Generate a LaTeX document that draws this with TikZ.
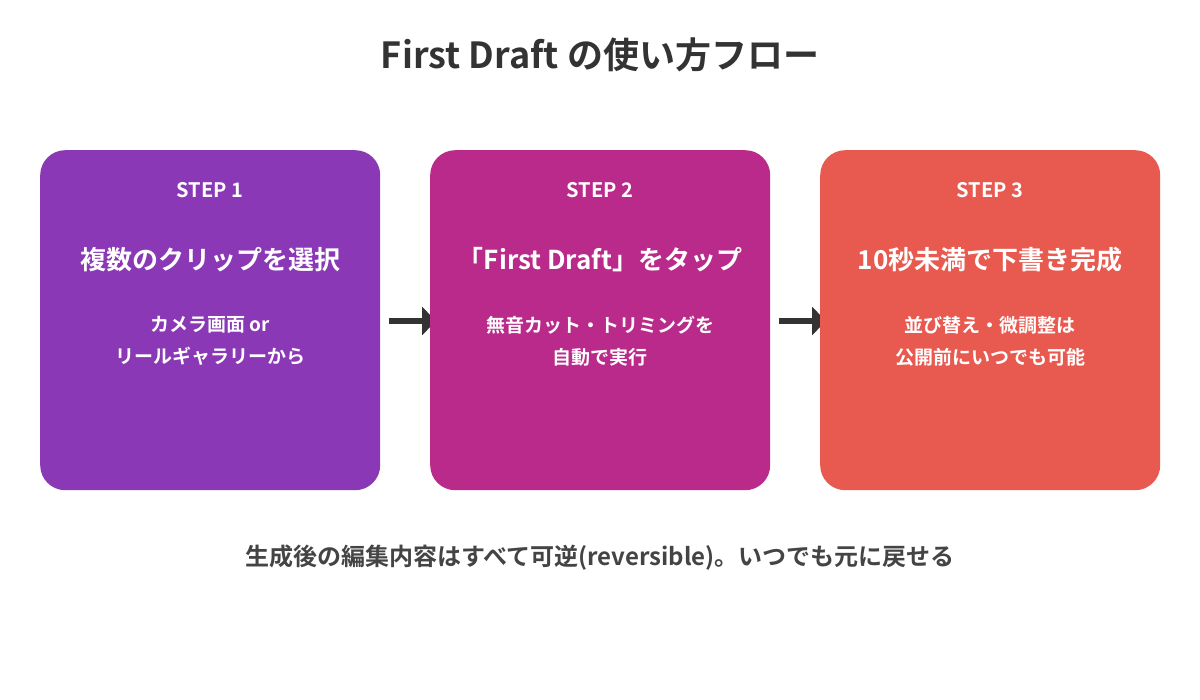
\documentclass[tikz,border=0pt]{standalone}
\usepackage{fontspec}
\setmainfont{Noto Sans CJK JP}[BoldFont={Noto Sans CJK JP Bold}]
\usetikzlibrary{arrows.meta}
\definecolor{cA}{HTML}{8A38B6}
\definecolor{cB}{HTML}{BA2A8A}
\definecolor{cC}{HTML}{E8594F}
\definecolor{dk}{HTML}{333333}
\definecolor{ft}{HTML}{444444}
\begin{document}
\begin{tikzpicture}[x=1pt,y=-1pt,
  box/.style={rounded corners=25pt,minimum width=340pt,minimum height=340pt,inner sep=0pt,anchor=north west},
  lab/.style={text=white,font=\bfseries,align=center},
  arr/.style={draw=dk,line width=6pt,-{Triangle[length=14pt,width=28pt]}}]
\useasboundingbox (0,0) rectangle (1200,700);
\node[font=\bfseries\fontsize{36}{42}\selectfont,text=dk] (title) at (600,55) {First Draft の使い方フロー};
\coordinate (a1s) at (389,321); \coordinate (a1e) at (436,321);
\coordinate (a2s) at (779,321); \coordinate (a2e) at (826,321);
\draw[arr] (a1s) -- (a1e);
\draw[arr] (a2s) -- (a2e);
\node[box,fill=cA] (b1) at (40,150) {};
\node[box,fill=cB] (b2) at (430,150) {};
\node[box,fill=cC] (b3) at (820,150) {};
\foreach \b/\s/\h/\t in {b1/1/複数のクリップを選択/{カメラ画面 or\\リールギャラリーから},
  b2/2/「First Draft」をタップ/{無音カット・トリミングを\\自動で実行},
  b3/3/10秒未満で下書き完成/{並び替え・微調整は\\公開前にいつでも可能}}{
  \node[lab,font=\bfseries\fontsize{20}{24}\selectfont] (\b s) at ([yshift=-40pt]\b.north) {STEP \s};
  \node[lab,font=\bfseries\fontsize{26}{30}\selectfont] (\b h) at ([yshift=-110pt]\b.north) {\h};
  \node[lab,font=\bfseries\fontsize{19}{32}\selectfont,anchor=north] (\b t) at ([yshift=-163pt]\b.north) {\t};
}
\node[font=\bfseries\fontsize{24}{28}\selectfont,text=ft] (foot) at (600,558) {生成後の編集内容はすべて可逆(reversible)。いつでも元に戻せる};
\end{tikzpicture}
\end{document}
